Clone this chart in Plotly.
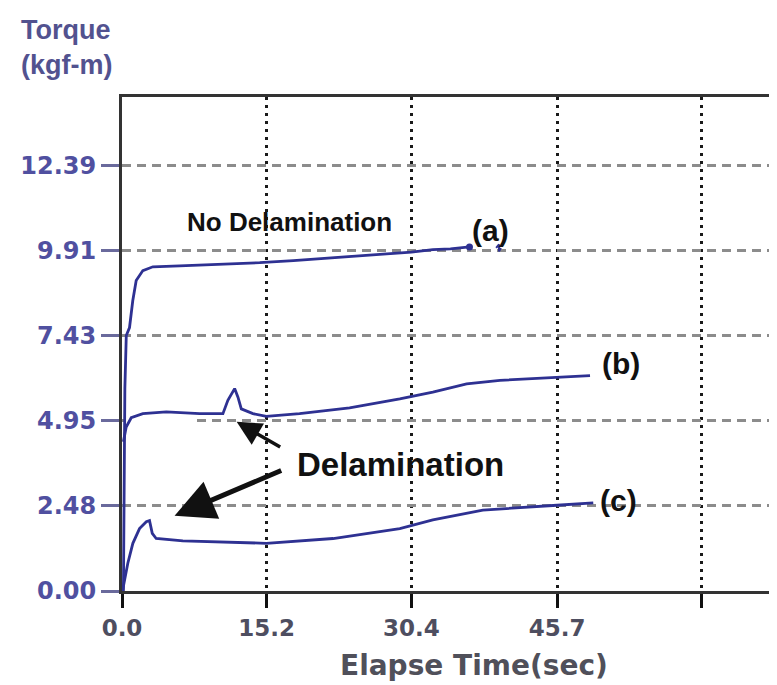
import plotly.graph_objects as go

# ---- data ----
time_a = [0.15, 0.3, 0.45, 0.79, 1.13, 1.49, 2.19, 3.24, 6.05, 10.0, 14.47, 18.0, 22.2, 26.0, 30.4, 32.65, 34.5, 36.5]
torque_a = [0.0, 5.9, 7.45, 7.68, 8.46, 9.05, 9.34, 9.45, 9.48, 9.52, 9.57, 9.63, 9.71, 9.78, 9.88, 9.95, 9.97, 10.03]

time_b = [0.15, 0.26, 0.44, 0.97, 2.19, 4.65, 8.15, 10.6, 11.12, 11.83, 12.18, 12.53, 13.75, 15.16, 18.65, 23.9, 29.18, 32.65, 36.2, 39.7, 45.69, 49.16]
torque_b = [4.35, 4.49, 4.78, 5.05, 5.17, 5.22, 5.17, 5.17, 5.56, 5.90, 5.65, 5.31, 5.17, 5.09, 5.17, 5.34, 5.60, 5.80, 6.04, 6.14, 6.23, 6.28]

time_c = [0.05, 0.26, 0.61, 1.14, 1.84, 2.55, 2.89, 3.18, 3.59, 6.39, 11.64, 15.16, 22.17, 29.18, 32.65, 37.9, 45.69, 49.5]
torque_c = [0.0, 0.32, 0.81, 1.39, 1.82, 2.02, 2.05, 1.68, 1.53, 1.46, 1.41, 1.39, 1.53, 1.82, 2.07, 2.36, 2.50, 2.57]

frag_t = [39.3, 39.6, 39.6, 39.8]
frag_v = [10.0, 10.1, 9.9, 10.0]

y_tickvals = [0.0, 2.478, 4.956, 7.434, 9.912, 12.39]
y_ticktext = ["0.00", "2.48", "4.95", "7.43", "9.91", "12.39"]
x_tickvals = [0.0, 15.2, 30.4, 45.7, 60.9]
x_ticktext = ["0.0", "15.2", "30.4", "45.7", ""]

series_labels = ["(a)", "(b)", "(c)"]

LINE = "#2e3192"

fig = go.Figure()
for t, v in [(time_a, torque_a), (time_b, torque_b), (time_c, torque_c)]:
    fig.add_trace(go.Scatter(x=t, y=v, mode="lines",
                             line=dict(color=LINE, width=2.8), showlegend=False,
                             hoverinfo="skip"))
fig.add_trace(go.Scatter(x=[time_a[-1]], y=[torque_a[-1]], mode="markers",
                         marker=dict(color=LINE, size=7), showlegend=False))
fig.add_trace(go.Scatter(x=frag_t, y=frag_v, mode="lines",
                         line=dict(color=LINE, width=2), showlegend=False))

fig.update_xaxes(range=[0, 68.8], tickvals=x_tickvals, ticktext=x_ticktext,
                 showgrid=True, gridcolor="#1a1a1a", gridwidth=3, griddash="3px,5px",
                 showline=True, linecolor="#333333", linewidth=3, mirror=True,
                 ticks="outside", ticklen=14, tickwidth=3, tickcolor="#111",
                 tickfont=dict(family="DejaVu Sans", size=23, color="#4e4e60", weight="bold"),
                 zeroline=False)
fig.update_yaxes(range=[0, 14.40], tickvals=y_tickvals, ticktext=y_ticktext,
                 showgrid=True, gridcolor="#8c8c8c", gridwidth=3, griddash="9px,6px",
                 showline=True, linecolor="#333333", linewidth=3,
                 ticks="outside", ticklen=18, tickwidth=3, tickcolor="#6a6a9c",
                 tickfont=dict(family="DejaVu Sans", size=24, color="#5050a0", weight="bold"),
                 zeroline=False)

# the reference has the 4.95 grid line erased near the axis
fig.add_shape(type="rect", x0=0.25, x1=7.7, y0=4.956 - 0.12, y1=4.956 + 0.12,
              fillcolor="white", line_width=0, layer="between")

ann = []
# axis titles
ann.append(dict(xref="paper", yref="paper", x=-0.157, y=1.17, xanchor="left", yanchor="top",
                text="<b>Torque<br>(kgf-m)</b>", showarrow=False, align="left",
                font=dict(family="Liberation Sans", size=27, color="#52528f")))
ann.append(dict(xref="paper", yref="paper", x=(474.5 - 122) / 655, y=-0.15,
                xanchor="center", yanchor="middle", text="<b>Elapse Time(sec)</b>", showarrow=False,
                font=dict(family="DejaVu Sans", size=28, color="#50505a")))
# labels
ann.append(dict(x=17.56, y=10.76, text="<b>No Delamination</b>", showarrow=False,
                font=dict(family="Liberation Sans", size=26, color="#111"), xanchor="center", yanchor="middle"))
ann.append(dict(x=18.14, y=3.70, text="<b>Delamination</b>", showarrow=False,
                font=dict(family="Liberation Sans", size=33, color="#111"), xanchor="left", yanchor="middle"))
for lab, (lx, ly) in zip(series_labels, [(38.75, 10.52), (52.4, 6.62), (52.1, 2.65)]):
    ann.append(dict(x=lx, y=ly, text="<b>" + lab + "</b>", showarrow=False,
                    font=dict(family="Liberation Sans", size=30, color="#111"),
                    xanchor="center", yanchor="middle"))
# arrows
ann.append(dict(x=12.04, y=4.93, ax=16.77, ay=4.17, axref="x", ayref="y", text="",
                showarrow=True, arrowhead=2, arrowsize=1.4, arrowwidth=3.5, arrowcolor="#111"))
ann.append(dict(x=5.52, y=2.19, ax=16.88, ay=3.53, axref="x", ayref="y", text="",
                showarrow=True, arrowhead=2, arrowsize=1.6, arrowwidth=5, arrowcolor="#111"))

# the page body has an 8px margin, so the figure is sized to sit in the window
fig.update_layout(width=769, height=677, margin=dict(l=114, r=0, t=89, b=94),
                  paper_bgcolor="white", plot_bgcolor="white", annotations=ann,
                  showlegend=False)

fig.write_html("out.html")
